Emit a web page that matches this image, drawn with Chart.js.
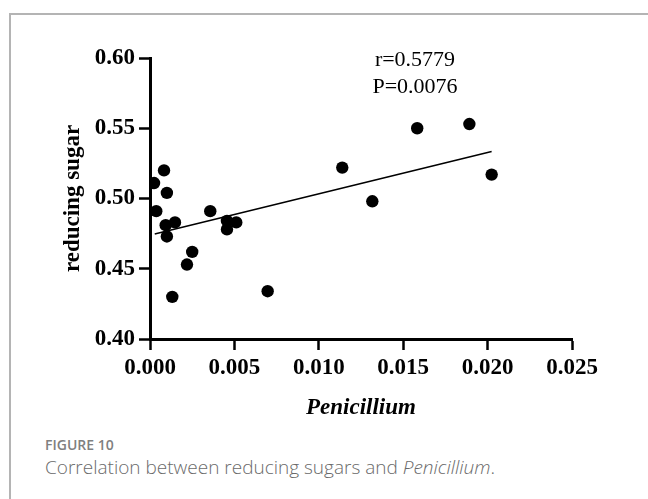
<!DOCTYPE html>
<html>
<head>
<meta charset="utf-8">
<script src="https://cdn.jsdelivr.net/npm/chart.js@4/dist/chart.umd.min.js"></script>
<style>
  html, body { margin: 0; padding: 0; background: #fff; }
  body { width: 648px; height: 499px; position: relative; overflow: hidden; }
  #frame { position: absolute; left: 9px; top: 13px; right: -10px; bottom: -10px;
           border-top: 2px solid #b4b4b4; border-left: 2px solid #b4b4b4; }
  #plot { position: absolute; left: 0; top: 0; }
  .stat { position: absolute; font-family: "Liberation Serif", "Times New Roman", serif;
          font-size: 22px; color: #000; line-height: 22px; text-align: center; width: 140px; }
  #fig { position: absolute; left: 45px; top: 438px; font-family: "Open Sans", sans-serif;
         font-weight: 600; font-size: 14px; line-height: 14px; color: #808080; }
  #cap { position: absolute; left: 45px; top: 458px; font-family: "Open Sans", sans-serif;
         font-weight: 300; font-size: 19px; line-height: 19px; color: #6a6a6a; white-space: nowrap; }
</style>
</head>
<body>
<div id="frame"></div>
<canvas id="plot" width="648" height="430"></canvas>
<div class="stat" style="left:345px; top:48px;">r=0.5779</div>
<div class="stat" style="left:345px; top:75px;">P=0.0076</div>
<div id="fig">FIGURE 10</div>
<div id="cap">Correlation between reducing sugars and <i>Penicillium</i>.</div>
<script>
// Penicillium relative abundance (x) against reducing sugar content (y)
const penicillium = [0.00024, 0.00083, 0.00100, 0.00037, 0.00093, 0.00148, 0.00100,
                     0.00250, 0.00219, 0.00132, 0.00357, 0.00456, 0.00456, 0.00511,
                     0.00697, 0.01139, 0.01317, 0.01583, 0.01892, 0.02024];
const reducingSugar = [0.511, 0.520, 0.504, 0.491, 0.481, 0.483, 0.473,
                       0.462, 0.453, 0.430, 0.491, 0.484, 0.478, 0.483,
                       0.434, 0.522, 0.498, 0.550, 0.553, 0.517];
// Linear regression line end points
const fitX = [0.00028, 0.02024];
const fitY = [0.4748, 0.5334];
// Axis tick values
const xTicks = [0, 0.005, 0.010, 0.015, 0.020, 0.025];
const yTicks = [0.40, 0.45, 0.50, 0.55, 0.60];

const serif = '"Liberation Serif", "Times New Roman", serif';
const tickFont = { family: serif, size: 23, weight: 'bold' };

const axisCommon = {
  type: 'linear',
  grid: { drawOnChartArea: false, drawTicks: true, tickLength: 11, tickWidth: 2.5,
          tickColor: '#000', color: '#000' },
  border: { display: true, color: '#000', width: 3 }
};

new Chart(document.getElementById('plot'), {
  data: {
    datasets: [
      {
        type: 'scatter',
        data: penicillium.map((x, i) => ({ x: x, y: reducingSugar[i] })),
        pointRadius: 6.2,
        pointHoverRadius: 6.2,
        pointBackgroundColor: '#000',
        pointBorderWidth: 0,
        order: 1
      },
      {
        type: 'line',
        data: fitX.map((x, i) => ({ x: x, y: fitY[i] })),
        borderColor: '#000',
        borderWidth: 1.6,
        pointRadius: 0,
        fill: false,
        order: 2
      }
    ]
  },
  options: {
    responsive: false,
    animation: false,
    devicePixelRatio: 1,
    layout: { padding: { left: 0, top: 58, right: 76, bottom: 0 } },
    plugins: { legend: { display: false }, tooltip: { enabled: false } },
    scales: {
      x: Object.assign({}, axisCommon, {
        min: xTicks[0], max: xTicks[xTicks.length - 1],
        afterBuildTicks: s => { s.ticks = xTicks.map(v => ({ value: v })); },
        afterFit: s => { s.height = 91; },
        ticks: { font: tickFont, color: '#000', padding: 4, maxRotation: 0,
                 callback: v => Number(v).toFixed(3) },
        title: { display: true, text: 'Penicillium', color: '#000',
                 font: { family: serif, size: 23, weight: 'bold', style: 'italic' },
                 padding: { top: 0, bottom: 8 } }
      }),
      y: Object.assign({}, axisCommon, {
        min: yTicks[0], max: yTicks[yTicks.length - 1],
        afterBuildTicks: s => { s.ticks = yTicks.map(v => ({ value: v })); },
        afterFit: s => { s.width = 150; },
        ticks: { font: tickFont, color: '#000', padding: 4,
                 callback: v => Number(v).toFixed(2) },
        title: { display: true, text: 'reducing sugar', color: '#000',
                 font: { family: serif, size: 23, weight: 'bold' },
                 padding: { top: 59, bottom: 0 } }
      })
    }
  }
});
</script>
</body>
</html>
